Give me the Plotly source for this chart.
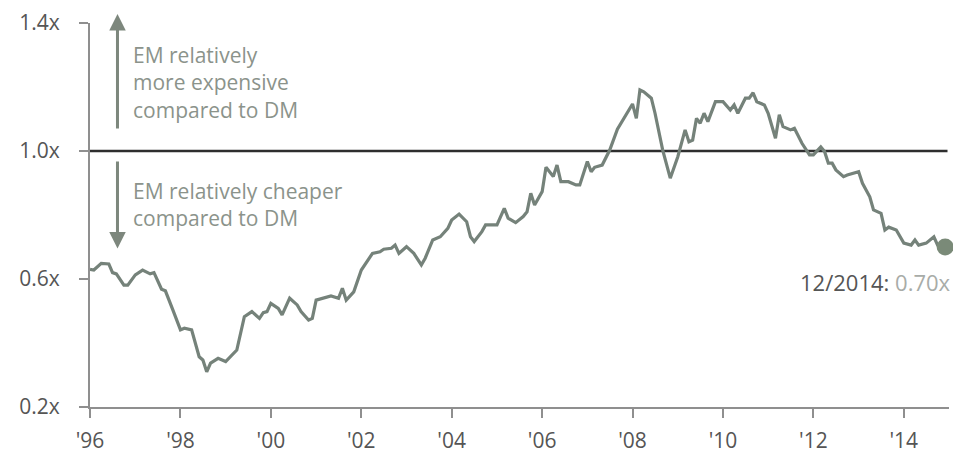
import plotly.graph_objects as go

dates = [
    "1996-01", "1996-02", "1996-04", "1996-06", "1996-07", "1996-08", "1996-10", "1996-11",
    "1997-01", "1997-03", "1997-05", "1997-06", "1997-08", "1997-09", "1997-11",
    "1998-01", "1998-02", "1998-04", "1998-06", "1998-07", "1998-08", "1998-09", "1998-11",
    "1999-01", "1999-04", "1999-05", "1999-06", "1999-08", "1999-10", "1999-11", "1999-12",
    "2000-01", "2000-03", "2000-04", "2000-06", "2000-08", "2000-09", "2000-11", "2000-12",
    "2001-01", "2001-03", "2001-05", "2001-07", "2001-08", "2001-09", "2001-11",
    "2002-01", "2002-04", "2002-06", "2002-07", "2002-09", "2002-10", "2002-11",
    "2003-01", "2003-03", "2003-05", "2003-06", "2003-08", "2003-10", "2003-12",
    "2004-01", "2004-03", "2004-05", "2004-06", "2004-07", "2004-09", "2004-10",
    "2005-01", "2005-03", "2005-04", "2005-06", "2005-08", "2005-09", "2005-10", "2005-11",
    "2006-01", "2006-02", "2006-04", "2006-05", "2006-06", "2006-08", "2006-10", "2006-11",
    "2007-01", "2007-02", "2007-03", "2007-05", "2007-07", "2007-09", "2007-11",
    "2008-01", "2008-02", "2008-03", "2008-04", "2008-06", "2008-07", "2008-09", "2008-11", "2008-12",
    "2009-01", "2009-03", "2009-04", "2009-05", "2009-06", "2009-07", "2009-08", "2009-09", "2009-11",
    "2010-01", "2010-03", "2010-04", "2010-05", "2010-07", "2010-08", "2010-09", "2010-10", "2010-12",
    "2011-01", "2011-03", "2011-04", "2011-05", "2011-07", "2011-08", "2011-09", "2011-10", "2011-12",
    "2012-01", "2012-03", "2012-04", "2012-05", "2012-06", "2012-07", "2012-09", "2012-10",
    "2013-01", "2013-02", "2013-04", "2013-05", "2013-07", "2013-08", "2013-09", "2013-11",
    "2014-01", "2014-03", "2014-04", "2014-05", "2014-07", "2014-09", "2014-10", "2014-12",
]

ratio = [
    0.630, 0.628, 0.649, 0.647, 0.620, 0.616, 0.581, 0.581,
    0.613, 0.628, 0.616, 0.620, 0.568, 0.563, 0.503,
    0.441, 0.446, 0.441, 0.357, 0.347, 0.310, 0.337, 0.352,
    0.342, 0.378, 0.430, 0.482, 0.498, 0.477, 0.495, 0.498,
    0.524, 0.508, 0.488, 0.540, 0.519, 0.498, 0.472, 0.477,
    0.534, 0.540, 0.547, 0.540, 0.571, 0.534, 0.560,
    0.628, 0.680, 0.685, 0.693, 0.696, 0.706, 0.680,
    0.701, 0.680, 0.644, 0.665, 0.722, 0.732, 0.758,
    0.784, 0.803, 0.779, 0.732, 0.717, 0.748, 0.769,
    0.769, 0.821, 0.790, 0.776, 0.795, 0.810, 0.868, 0.831,
    0.873, 0.949, 0.920, 0.956, 0.904, 0.904, 0.894, 0.894,
    0.967, 0.935, 0.949, 0.956, 1.003, 1.068, 1.107,
    1.147, 1.102, 1.191, 1.185, 1.165, 1.118, 1.003, 0.915, 0.946,
    0.982, 1.066, 1.029, 1.034, 1.102, 1.087, 1.118, 1.092, 1.154,
    1.154, 1.128, 1.144, 1.118, 1.165, 1.165, 1.182, 1.154, 1.144,
    1.118, 1.040, 1.113, 1.076, 1.066, 1.071, 1.045, 1.024, 0.988,
    0.988, 1.013, 0.998, 0.962, 0.962, 0.941, 0.920, 0.925,
    0.935, 0.899, 0.857, 0.816, 0.805, 0.753, 0.762, 0.753,
    0.712, 0.706, 0.722, 0.706, 0.712, 0.732, 0.706, 0.700,
]

x_tick_vals = ["1996-01-01", "1998-01-01", "2000-01-01", "2002-01-01", "2004-01-01",
               "2006-01-01", "2008-01-01", "2010-01-01", "2012-01-01", "2014-01-01"]
x_tick_text = ["'96", "'98", "'00", "'02", "'04", "'06", "'08", "'10", "'12", "'14"]
y_tick_vals = [0.2, 0.6, 1.0, 1.4]
y_tick_text = ["0.2x", "0.6x", "1.0x", "1.4x"]

last_label = "12/2014:"
last_value_text = "0.70x"

LINE = "#75827a"
FONT = "Open Sans"

fig = go.Figure()
fig.add_trace(go.Scatter(
    x=dates, y=ratio, mode="lines",
    line=dict(color=LINE, width=3.2),
    hoverinfo="skip", showlegend=False,
))
fig.add_trace(go.Scatter(
    x=[dates[-1]], y=[ratio[-1]], mode="markers",
    marker=dict(color="#7a8a78", size=17),
    cliponaxis=False, hoverinfo="skip", showlegend=False,
))

fig.add_shape(type="line", xref="x", yref="y",
              x0="1996-01-01", x1="2014-12-20", y0=1.0, y1=1.0,
              line=dict(color="#2e2e2e", width=2.4), layer="below")

ann_color = "#8b938b"
arrow_color = "#7d877d"
fig.add_annotation(x="1996-08-10", y=1.428, xref="x", yref="y",
                   ax="1996-08-10", ay=1.066, axref="x", ayref="y",
                   showarrow=True, arrowhead=2, arrowsize=1.1, arrowwidth=3,
                   arrowcolor=arrow_color, text="")
fig.add_annotation(x="1996-08-10", y=0.695, xref="x", yref="y",
                   ax="1996-08-10", ay=0.972, axref="x", ayref="y",
                   showarrow=True, arrowhead=2, arrowsize=1.1, arrowwidth=3,
                   arrowcolor=arrow_color, text="")
fig.add_annotation(x="1996-11-25", y=1.213, xref="x", yref="y",
                   xanchor="left", yanchor="middle", align="left", showarrow=False,
                   text="EM relatively<br>more expensive<br>compared to DM",
                   font=dict(family=FONT, size=21, color=ann_color))
fig.add_annotation(x="1996-11-25", y=0.834, xref="x", yref="y",
                   xanchor="left", yanchor="middle", align="left", showarrow=False,
                   text="EM relatively cheaper<br>compared to DM",
                   font=dict(family=FONT, size=21, color=ann_color))
fig.add_annotation(x=1.0, y=0.59, xref="paper", yref="y",
                   xanchor="right", yanchor="middle", showarrow=False, xshift=4,
                   text=f"<span style='color:#555555'>{last_label}</span> "
                        f"<span style='color:#a8aca8'>{last_value_text}</span>",
                   font=dict(family=FONT, size=22))

fig.update_xaxes(
    type="date", range=["1996-01-01", "2015-01-01"],
    tickvals=x_tick_vals, ticktext=x_tick_text,
    showgrid=False, zeroline=False, automargin=False,
    showline=True, linecolor="#8f8f8f", linewidth=2,
    ticks="outside", ticklen=9, tickwidth=2, tickcolor="#8f8f8f",
    ticklabelstandoff=5,
    tickfont=dict(family=FONT, size=21, color="#555555"),
)
fig.update_yaxes(
    range=[0.2, 1.4],
    tickvals=y_tick_vals, ticktext=y_tick_text,
    showgrid=False, zeroline=False, automargin=False,
    showline=True, linecolor="#8f8f8f", linewidth=2,
    ticks="outside", ticklen=9, tickwidth=2, tickcolor="#8f8f8f",
    ticklabelstandoff=15,
    tickfont=dict(family=FONT, size=21, color="#555555"),
)

fig.update_layout(
    width=953, height=454,
    margin=dict(l=90, r=4, t=23, b=47),
    paper_bgcolor="white", plot_bgcolor="white",
)

fig.write_html("out.html")
